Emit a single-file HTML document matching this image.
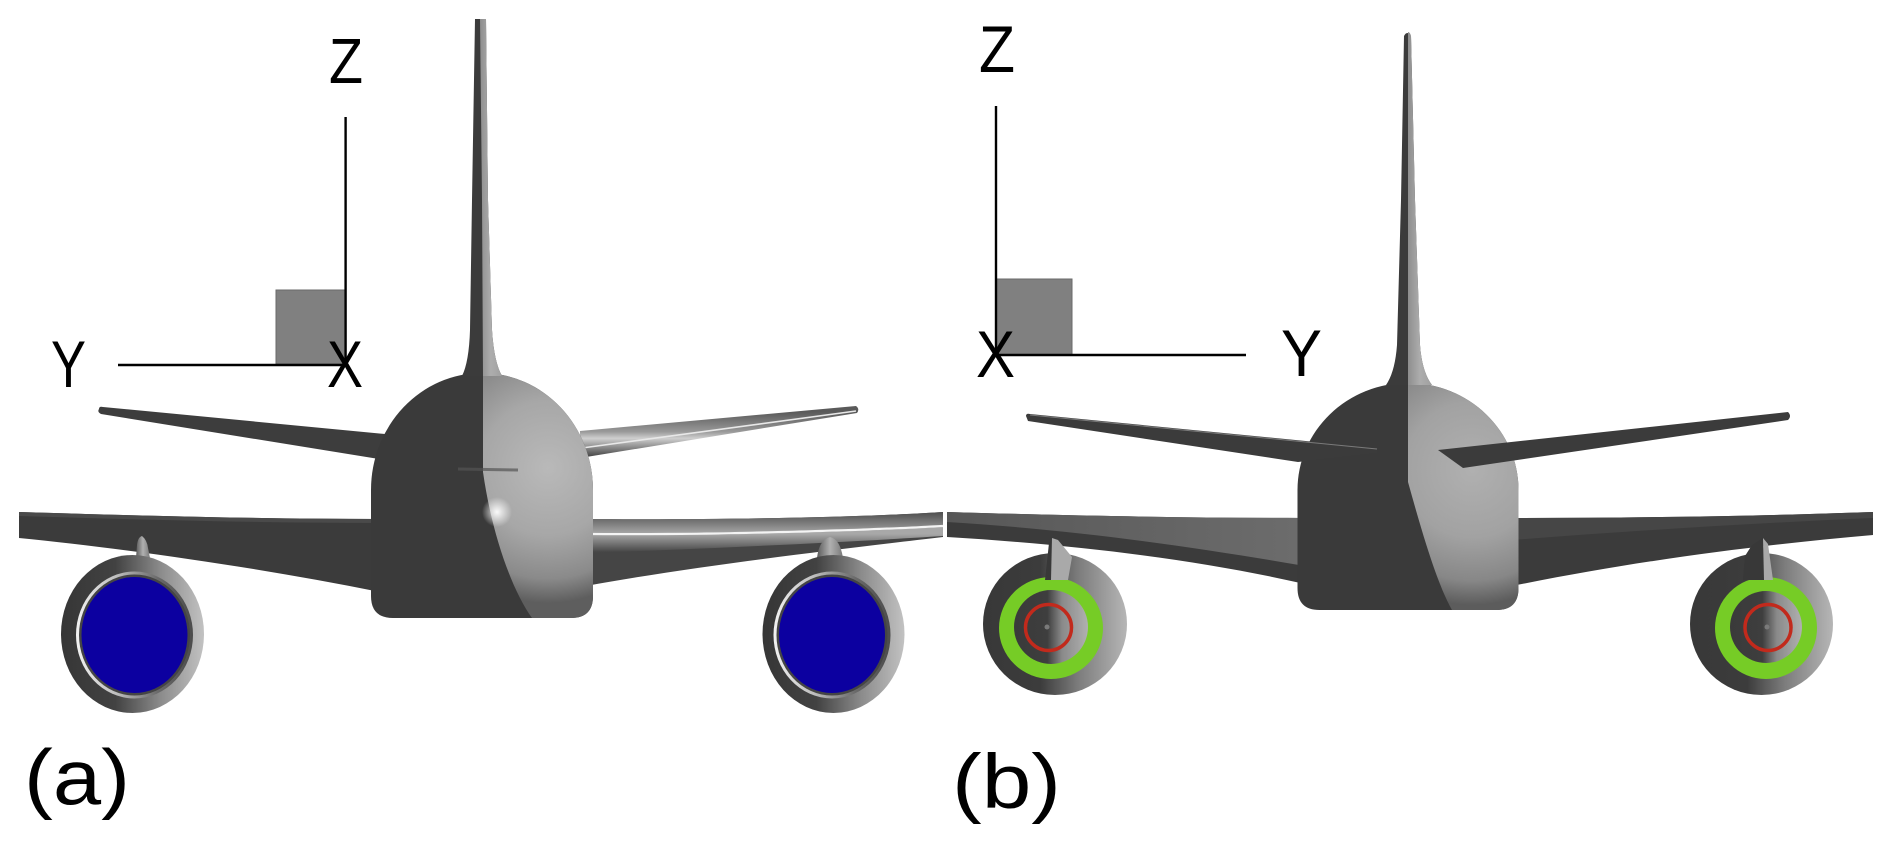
<!DOCTYPE html>
<html>
<head>
<meta charset="utf-8">
<style>
  html,body{margin:0;padding:0;background:#fff;}
  svg{display:block;}
  text{font-family:"Liberation Sans","DejaVu Sans",sans-serif;fill:#000;}
</style>
</head>
<body>
<svg width="1892" height="844" viewBox="0 0 1892 844" xmlns="http://www.w3.org/2000/svg">
  <defs>
    <radialGradient id="gFusA" gradientUnits="userSpaceOnUse" cx="548" cy="468" r="135">
      <stop offset="0" stop-color="#b9b9b9"/>
      <stop offset="0.5" stop-color="#a7a7a7"/>
      <stop offset="0.82" stop-color="#8a8a8a"/>
      <stop offset="1" stop-color="#5e5e5e"/>
    </radialGradient>
    <radialGradient id="gFusB" gradientUnits="userSpaceOnUse" cx="1472" cy="470" r="135">
      <stop offset="0" stop-color="#b0b0b0"/>
      <stop offset="0.5" stop-color="#a2a2a2"/>
      <stop offset="0.82" stop-color="#878787"/>
      <stop offset="1" stop-color="#5c5c5c"/>
    </radialGradient>
    <radialGradient id="gSpot" gradientUnits="userSpaceOnUse" cx="497" cy="512" r="15">
      <stop offset="0" stop-color="#ffffff" stop-opacity="0.95"/>
      <stop offset="1" stop-color="#ffffff" stop-opacity="0"/>
    </radialGradient>
    <linearGradient id="gFin" x1="0" y1="0" x2="1" y2="0">
      <stop offset="0" stop-color="#8e8e8e"/>
      <stop offset="0.5" stop-color="#adadad"/>
      <stop offset="1" stop-color="#a0a0a0"/>
    </linearGradient>
    <linearGradient id="gEngOut" x1="0" y1="0" x2="1" y2="0">
      <stop offset="0" stop-color="#363636"/>
      <stop offset="0.38" stop-color="#424242"/>
      <stop offset="0.7" stop-color="#8c8c8c"/>
      <stop offset="1" stop-color="#c2c2c2"/>
    </linearGradient>
    <linearGradient id="gEngRing" x1="0" y1="0" x2="1" y2="0">
      <stop offset="0" stop-color="#f2f2f2"/>
      <stop offset="0.35" stop-color="#bdbdbd"/>
      <stop offset="0.7" stop-color="#6a6a6a"/>
      <stop offset="1" stop-color="#4c4c4c"/>
    </linearGradient>
    <linearGradient id="gEngOutB" x1="0" y1="0" x2="1" y2="0">
      <stop offset="0" stop-color="#383838"/>
      <stop offset="0.4" stop-color="#3c3c3c"/>
      <stop offset="0.66" stop-color="#7c7c7c"/>
      <stop offset="1" stop-color="#b6b6b6"/>
    </linearGradient>
    <linearGradient id="gHub" x1="0" y1="0" x2="1" y2="0">
      <stop offset="0" stop-color="#3a3a3a"/>
      <stop offset="0.45" stop-color="#3e3e3e"/>
      <stop offset="0.65" stop-color="#8a8a8a"/>
      <stop offset="1" stop-color="#b0b0b0"/>
    </linearGradient>
    <linearGradient id="gWingUp" gradientUnits="userSpaceOnUse" x1="0" y1="512" x2="0" y2="533">
      <stop offset="0" stop-color="#4e4e4e"/>
      <stop offset="1" stop-color="#a4a4a4"/>
    </linearGradient>
    <linearGradient id="gWingLow" gradientUnits="userSpaceOnUse" x1="0" y1="534" x2="0" y2="552">
      <stop offset="0" stop-color="#a8a8a8"/>
      <stop offset="1" stop-color="#464646"/>
    </linearGradient>
    <linearGradient id="gTailR" gradientUnits="userSpaceOnUse" x1="0" y1="412" x2="0" y2="456">
      <stop offset="0" stop-color="#5a5a5a"/>
      <stop offset="0.45" stop-color="#9a9a9a"/>
      <stop offset="0.6" stop-color="#cfcfcf"/>
      <stop offset="1" stop-color="#4a4a4a"/>
    </linearGradient>
    <linearGradient id="gWingBL" gradientUnits="userSpaceOnUse" x1="947" y1="0" x2="1298" y2="0">
      <stop offset="0" stop-color="#575757"/>
      <stop offset="1" stop-color="#6c6c6c"/>
    </linearGradient>
    <linearGradient id="gNub" x1="0" y1="0" x2="1" y2="0">
      <stop offset="0" stop-color="#5a5a5a"/>
      <stop offset="0.5" stop-color="#b0b0b0"/>
      <stop offset="1" stop-color="#7a7a7a"/>
    </linearGradient>
  </defs>

  <!-- ================= PANEL (a) ================= -->
  <rect x="276" y="290" width="70" height="74" fill="#808080" stroke="#6a6a6a" stroke-width="1"/>
  <line x1="345.6" y1="117" x2="345.6" y2="365" stroke="#000" stroke-width="2.4"/>
  <line x1="118" y1="365" x2="346" y2="365" stroke="#000" stroke-width="2.6"/>
  <text x="329" y="83" font-size="64" textLength="34" lengthAdjust="spacingAndGlyphs">Z</text>
  <text x="51" y="387" font-size="66" textLength="35" lengthAdjust="spacingAndGlyphs">Y</text>
  <text x="327" y="387" font-size="66" textLength="36" lengthAdjust="spacingAndGlyphs">X</text>

  <!-- wings -->
  <path d="M19,512 C120,515 250,519 380,519 L380,592 C250,566 120,548 19,538 Z" fill="#3b3b3b"/>
  <path d="M19,512 C120,515 250,519 380,519 L380,523 C250,523 120,519 19,516 Z" fill="#4a4a4a"/>
  <path d="M586,519 C700,520 850,518 943,512 L943,537 C850,548 700,565 586,586 Z" fill="#454545"/>
  <path d="M586,519 C700,520 850,518 943,512 L943,525 C850,530 700,534 586,533 Z" fill="url(#gWingUp)"/>
  <path d="M586,535 C700,536 850,532 943,527 L943,536 C850,542 700,549 586,553 Z" fill="url(#gWingLow)"/>
  <path d="M586,534 C700,535 850,531 943,526" fill="none" stroke="#f4f4f4" stroke-width="2.2"/>

  <!-- tails -->
  <path d="M99,409 Q99,406 103,407 L385,434 L385,460 L101,414 Q97,412 99,409 Z" fill="#3d3d3d"/>
  <path d="M580,431 L856,406 Q860,409 857,413 L580,458 Z" fill="url(#gTailR)"/>
  <path d="M582,448 L856,411" stroke="#e8e8e8" stroke-width="1.6" fill="none"/>

  <!-- fuselage -->
  <path d="M371,490 A111,117 0 0 1 593,490 L593,596 Q593,618 571,618 L393,618 Q371,618 371,596 Z" fill="#3a3a3a"/>
  <path d="M483,373 A111,117 0 0 1 593,490 L593,596 Q593,618 571,618 L532,618 C512,590 492,535 483,472 Z" fill="url(#gFusA)"/>
  <circle cx="497" cy="512" r="15" fill="url(#gSpot)"/>
  <path d="M458,469 L518,470" stroke="#555" stroke-width="3" opacity="0.7"/>

  <!-- fin -->
  <path d="M475,19 L486,19 L488,200 L492,330 Q494,362 502,376 L462,376 Q469,362 470,330 L472,200 Z" fill="#3b3b3b"/>
  <path d="M480,19 L486,19 L488,200 L492,330 Q494,362 502,376 L483,376 L482,200 Z" fill="url(#gFin)"/>

  <!-- pylons -->
  <path d="M136,558 L137,545 Q138,537 142,536 Q147,540 148,548 L150,558 Z" fill="url(#gNub)"/>
  <path d="M817,558 Q819,540 830,537 Q840,539 843,558 Z" fill="url(#gNub)"/>

  <!-- engines (a) -->
  <ellipse cx="132.5" cy="634" rx="71.5" ry="79" fill="url(#gEngOut)"/>
  <ellipse cx="134.5" cy="635" rx="58.5" ry="63.5" fill="url(#gEngRing)"/>
  <ellipse cx="134.5" cy="635" rx="55.5" ry="60.5" fill="#454545"/>
  <ellipse cx="134.5" cy="635" rx="53" ry="58" fill="#0c00a0"/>

  <ellipse cx="833.5" cy="634" rx="71" ry="79" fill="url(#gEngOut)"/>
  <ellipse cx="832" cy="635" rx="58.5" ry="63.5" fill="url(#gEngRing)"/>
  <ellipse cx="832" cy="635" rx="55.5" ry="60.5" fill="#454545"/>
  <ellipse cx="832" cy="635" rx="53" ry="58" fill="#0c00a0"/>

  <text x="24" y="804" font-size="78" textLength="106" lengthAdjust="spacingAndGlyphs">(a)</text>

  <!-- ================= PANEL (b) ================= -->
  <rect x="996" y="279" width="76" height="76" fill="#808080" stroke="#6a6a6a" stroke-width="1"/>
  <line x1="996" y1="106" x2="996" y2="356" stroke="#000" stroke-width="2.4"/>
  <line x1="995" y1="355" x2="1246" y2="355" stroke="#000" stroke-width="2.6"/>
  <text x="979" y="72" font-size="66" textLength="36" lengthAdjust="spacingAndGlyphs">Z</text>
  <text x="976" y="377" font-size="66" textLength="39" lengthAdjust="spacingAndGlyphs">X</text>
  <text x="1281" y="376" font-size="66" textLength="41" lengthAdjust="spacingAndGlyphs">Y</text>

  <!-- wings -->
  <path d="M947,512 C1050,515 1180,518 1305,518 L1305,584 C1200,560 1080,545 947,537 Z" fill="#3b3b3b"/>
  <path d="M947,512 C1050,515 1180,518 1305,518 L1305,566 C1200,548 1080,530 947,522 Z" fill="url(#gWingBL)"/>
  <path d="M1512,518 C1640,518 1760,516 1873,512 L1873,535 C1760,545 1640,560 1512,586 Z" fill="#3b3b3b"/>
  <path d="M1512,518 C1640,518 1760,516 1873,512 L1873,518 C1760,523 1640,530 1512,540 Z" fill="#464646"/>

  <!-- fuselage -->
  <path d="M1297.5,490 A110.5,107 0 0 1 1518.5,490 L1518.5,588 Q1518.5,610 1496.5,610 L1319.5,610 Q1297.5,610 1297.5,588 Z" fill="#3a3a3a"/>
  <path d="M1408,383 A110.5,107 0 0 1 1518.5,490 L1518.5,588 Q1518.5,610 1496.5,610 L1452,610 C1436,582 1420,525 1408,482 Z" fill="url(#gFusB)"/>

  <!-- fin -->
  <path d="M1404,36 Q1407,30 1411,36 L1415,200 L1420,345 Q1422,372 1432,385 L1386,385 Q1395,372 1397,345 L1401,200 Z" fill="#3b3b3b"/>
  <path d="M1408,32 Q1410,32 1411,36 L1415,200 L1420,345 Q1422,372 1432,385 L1408,385 Z" fill="url(#gFin)"/>

  <!-- tails -->
  <path d="M1026,416 Q1026,413 1030,414 L1377,448 L1377,453 L1298,462 L1028,421 Z" fill="#3b3b3b"/>
  <path d="M1030,415 L1377,449" stroke="#7a7a7a" stroke-width="1" fill="none"/>
  <path d="M1438,450 L1788,412 Q1792,416 1788,420 L1463,468 Z" fill="#3b3b3b"/>

  <!-- engines (b) -->
  <ellipse cx="1055" cy="624" rx="72" ry="71" fill="url(#gEngOutB)"/>
  <ellipse cx="1051" cy="628" rx="52" ry="51" fill="#76cc26"/>
  <circle cx="1051" cy="627" r="37" fill="url(#gHub)"/>
  <circle cx="1048.5" cy="627.5" r="23" fill="none" stroke="#c22a1c" stroke-width="3.5"/>
  <circle cx="1047" cy="627" r="2.5" fill="#7a7a7a"/>
  <path d="M1045,580 L1049,543 L1053,538 L1054,580 Z" fill="#383838"/>
  <path d="M1052,538 L1058,540 L1072,557 L1068,580 L1051,580 Z" fill="#a9a9a9"/>

  <ellipse cx="1761.5" cy="624" rx="71.5" ry="71" fill="url(#gEngOutB)"/>
  <ellipse cx="1766" cy="628" rx="51" ry="51" fill="#76cc26"/>
  <circle cx="1766" cy="627" r="36" fill="url(#gHub)"/>
  <circle cx="1768" cy="627.5" r="23" fill="none" stroke="#c22a1c" stroke-width="3.5"/>
  <circle cx="1767" cy="627" r="2.5" fill="#7a7a7a"/>
  <path d="M1743,580 L1745,556 L1752,545 L1763,538 L1765,580 Z" fill="#383838"/>
  <path d="M1763,538 L1768,544 L1773,580 L1764,580 Z" fill="#a9a9a9"/>

  <text x="952" y="808" font-size="77" textLength="109" lengthAdjust="spacingAndGlyphs">(b)</text>
</svg>
</body>
</html>
